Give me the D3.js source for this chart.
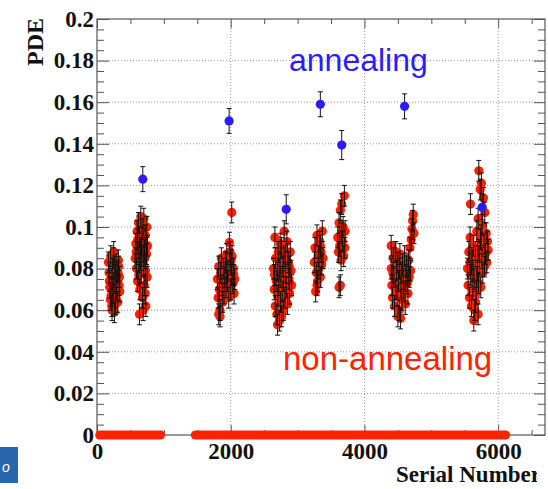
<!DOCTYPE html>
<html>
<head>
<meta charset="utf-8">
<script src="https://cdn.jsdelivr.net/npm/d3@7"></script>
<style>
  body { margin: 0; background: #fff; }
  svg { display: block; }
  .axis text { font-family: "Liberation Serif", "Times New Roman", serif; font-weight: bold; font-size: 23px; fill: #111; }
  .axis path { display: none; }
  .axis line { stroke: #555; }
</style>
</head>
<body>
<svg id="chart"></svg>
<script>
// tick labels
const xTicks = [0, 2000, 4000, 6000];
const xMinor = [500, 1000, 1500, 2500, 3000, 3500, 4500, 5000, 5500, 6500];
const yTicks = [0, 0.02, 0.04, 0.06, 0.08, 0.1, 0.12, 0.14, 0.16, 0.18, 0.2];

// serial-number ranges where the measured PDE is 0 (dense red band on the axis)
const zeroRuns = [[40, 950], [1470, 6110]];

// non-annealing batches: [serial number, PDE]
const batch1 = [[170,0.083],[180,0.078],[190,0.071],[200,0.065],[205,0.086],[215,0.075],[220,0.062],[230,0.080],
  [240,0.068],[245,0.085],[255,0.073],[260,0.059],[270,0.077],[280,0.066],[285,0.082],[295,0.070],[300,0.079],
  [310,0.064],[320,0.084],[330,0.072],[335,0.076],[340,0.069],[250,0.088],[225,0.060],[265,0.081],[290,0.074],
  [210,0.067],[315,0.078],[185,0.074],[275,0.063],[325,0.081],[235,0.071]];
const batch2 = [[570,0.085],[580,0.092],[590,0.080],[600,0.098],[605,0.074],[615,0.088],[620,0.102],[630,0.083],
  [635,0.095],[640,0.070],[650,0.090],[655,0.105],[660,0.078],[670,0.086],[675,0.099],[680,0.066],[690,0.093],
  [695,0.082],[700,0.104],[705,0.072],[710,0.089],[720,0.096],[725,0.079],[730,0.062],[740,0.087],[745,0.100],
  [750,0.076],[755,0.091],[635,0.058],[690,0.060],[720,0.068],[650,0.084],[610,0.094],[700,0.081],
  [585,0.088],[665,0.092],[715,0.085],[735,0.090],[625,0.077]];
const batch3 = [[1800,0.075],[1810,0.066],[1820,0.081],[1830,0.070],[1840,0.060],[1850,0.078],[1860,0.085],
  [1870,0.072],[1880,0.064],[1890,0.080],[1900,0.068],[1910,0.076],[1920,0.083],[1930,0.071],[1940,0.087],
  [1950,0.074],[1960,0.079],[1970,0.066],[1980,0.0925],[1990,0.082],[2000,0.070],[2010,0.077],[2015,0.107],
  [2020,0.086],[2030,0.073],[2040,0.080],[2050,0.068],[2060,0.075],[1820,0.058],[1840,0.057],[1990,0.088],
  [1935,0.078],[2005,0.084],[2045,0.077]];
const batch4 = [[2640,0.080],[2650,0.070],[2660,0.095],[2665,0.062],[2670,0.085],[2680,0.074],[2690,0.058],
  [2700,0.079],[2705,0.067],[2710,0.088],[2720,0.072],[2730,0.055],[2740,0.083],[2745,0.064],[2750,0.076],
  [2760,0.090],[2770,0.069],[2780,0.081],[2785,0.060],[2790,0.074],[2800,0.098],[2810,0.066],[2815,0.086],
  [2820,0.078],[2830,0.071],[2840,0.093],[2850,0.063],[2860,0.083],[2870,0.075],[2880,0.068],[2890,0.088],
  [2900,0.079],[2910,0.072],[2700,0.053],[2760,0.057],[2850,0.087],[2740,0.092],[2655,0.077],[2725,0.080],
  [2795,0.085],[2875,0.081]];
const batch5 = [[3250,0.083],[3260,0.090],[3270,0.069],[3280,0.078],[3290,0.096],[3300,0.074],[3310,0.086],
  [3320,0.080],[3330,0.093],[3340,0.076],[3350,0.088],[3360,0.082],[3370,0.098],[3380,0.085],[3290,0.072],
  [3340,0.091]];
const batch6 = [[3600,0.095],[3610,0.088],[3620,0.102],[3630,0.091],[3640,0.108],[3650,0.084],[3655,0.097],
  [3660,0.111],[3670,0.093],[3680,0.100],[3690,0.086],[3700,0.115],[3705,0.090],[3710,0.098],[3620,0.071],
  [3640,0.072]];
const batch7 = [[4400,0.080],[4410,0.072],[4420,0.066],[4430,0.085],[4440,0.076],[4450,0.062],[4460,0.088],
  [4470,0.070],[4480,0.079],[4490,0.067],[4500,0.083],[4510,0.074],[4520,0.060],[4530,0.087],[4540,0.056],
  [4545,0.071],[4550,0.078],[4560,0.065],[4570,0.082],[4580,0.075],[4590,0.069],[4600,0.086],[4610,0.063],
  [4620,0.077],[4630,0.081],[4640,0.073],[4650,0.068],[4660,0.084],[4670,0.076],[4680,0.090],[4690,0.079],
  [4700,0.094],[4710,0.099],[4720,0.103],[4730,0.106],[4740,0.097],[4500,0.057],[4400,0.091],[4470,0.088],
  [4425,0.078],[4525,0.080],[4615,0.074],[4655,0.079]];
const batch8 = [[5540,0.080],[5550,0.072],[5560,0.088],[5570,0.066],[5580,0.095],[5585,0.111],[5590,0.077],
  [5600,0.062],[5610,0.084],[5620,0.070],[5630,0.091],[5635,0.055],[5640,0.075],[5650,0.060],[5660,0.086],
  [5670,0.068],[5680,0.098],[5690,0.079],[5700,0.104],[5705,0.073],[5710,0.127],[5715,0.089],[5720,0.082],
  [5730,0.118],[5735,0.094],[5740,0.071],[5750,0.121],[5755,0.085],[5760,0.101],[5770,0.078],[5780,0.114],
  [5790,0.092],[5800,0.107],[5810,0.087],[5820,0.097],[5830,0.083],[5840,0.093],[5850,0.089],[5600,0.082],
  [5660,0.064],[5700,0.058],[5680,0.076],[5575,0.083],[5625,0.079],[5695,0.088],[5745,0.096],[5795,0.081]];
const redErr = 0.005;

// annealing samples
const annealSerial = [685, 1976, 2830, 3340, 3660, 4600, 5760];
const annealPDE = [0.123, 0.151, 0.1085, 0.159, 0.1394, 0.158, 0.1095];
const annealErr = [0.006, 0.006, 0.007, 0.006, 0.007, 0.006, 0.006];

const W = 548, H = 489;
const frame = { left: 97, right: 545, top: 19, bottom: 435 };
const red = '#ff2200', blue = '#2a1cff';

const svg = d3.select('#chart').attr('width', W).attr('height', H);

const x = d3.scaleLinear().domain([0, 6700]).range([frame.left, frame.right]);
const y = d3.scaleLinear().domain([0, 0.2]).range([frame.bottom, frame.top]);

// dotted grid
svg.append('g').selectAll('line')
  .data(yTicks.slice(1, -1))
  .enter().append('line')
  .attr('x1', frame.left).attr('x2', frame.right)
  .attr('y1', d => y(d)).attr('y2', d => y(d))
  .attr('stroke', '#999').attr('stroke-dasharray', '1,2');
svg.append('g').selectAll('line')
  .data(xTicks.slice(1))
  .enter().append('line')
  .attr('x1', d => x(d)).attr('x2', d => x(d))
  .attr('y1', frame.top).attr('y2', frame.bottom)
  .attr('stroke', '#999').attr('stroke-dasharray', '1,2');

// axes, ticks inside the frame like ROOT
const yFmt = d => d === 0 ? '0' : String(+d.toFixed(2));
const yMinor = d3.range(0, 0.2001, 0.005).filter(v => Math.abs(v / 0.02 - Math.round(v / 0.02)) > 1e-6);

svg.append('g').attr('class', 'axis')
  .attr('transform', `translate(${frame.left},0)`)
  .call(d3.axisLeft(y).tickValues(yTicks).tickFormat(yFmt).tickSize(-12).tickPadding(3));
svg.append('g').attr('class', 'axis')
  .attr('transform', `translate(${frame.left},0)`)
  .call(d3.axisLeft(y).tickValues(yMinor).tickFormat('').tickSize(-7));
svg.append('g').attr('class', 'axis')
  .attr('transform', `translate(${frame.right},0)`)
  .call(d3.axisRight(y).tickValues(yTicks).tickFormat('').tickSize(-11));
svg.append('g').attr('class', 'axis')
  .attr('transform', `translate(${frame.right},0)`)
  .call(d3.axisRight(y).tickValues(yMinor).tickFormat('').tickSize(-7));

svg.append('g').attr('class', 'axis')
  .attr('transform', `translate(0,${frame.bottom})`)
  .call(d3.axisBottom(x).tickValues(xTicks).tickFormat(d3.format('d')).tickSize(-10).tickPadding(8));
svg.append('g').attr('class', 'axis')
  .attr('transform', `translate(0,${frame.bottom})`)
  .call(d3.axisBottom(x).tickValues(xMinor).tickFormat('').tickSize(-5));
svg.append('g').attr('class', 'axis')
  .attr('transform', `translate(0,${frame.top})`)
  .call(d3.axisTop(x).tickValues(xTicks).tickFormat('').tickSize(-9));
svg.append('g').attr('class', 'axis')
  .attr('transform', `translate(0,${frame.top})`)
  .call(d3.axisTop(x).tickValues(xMinor).tickFormat('').tickSize(-5));

svg.append('rect')
  .attr('x', frame.left).attr('y', frame.top)
  .attr('width', frame.right - frame.left).attr('height', frame.bottom - frame.top)
  .attr('fill', 'none').attr('stroke', '#555').attr('stroke-width', 1.2);

// zero PDE band
svg.append('g').selectAll('line')
  .data(zeroRuns)
  .enter().append('line')
  .attr('x1', d => x(d[0])).attr('x2', d => x(d[1]))
  .attr('y1', y(0)).attr('y2', y(0))
  .attr('stroke', red).attr('stroke-width', 9).attr('stroke-linecap', 'round');

// non-annealing points
const redPoints = [].concat(batch1, batch2, batch3, batch4, batch5, batch6, batch7, batch8);
const gRed = svg.append('g');
gRed.selectAll('circle')
  .data(redPoints)
  .enter().append('circle')
  .attr('cx', d => x(d[0])).attr('cy', d => y(d[1]))
  .attr('r', 4.6).attr('fill', red);

const drawErr = (g, pts) => {
  const e = g.selectAll('g.err').data(pts).enter().append('g').attr('class', 'err')
    .attr('stroke', '#111').attr('stroke-width', 1);
  e.append('line')
    .attr('x1', d => x(d.s)).attr('x2', d => x(d.s))
    .attr('y1', d => y(d.v - d.e)).attr('y2', d => y(d.v + d.e));
  e.append('line')
    .attr('x1', d => x(d.s) - 2.5).attr('x2', d => x(d.s) + 2.5)
    .attr('y1', d => y(d.v - d.e)).attr('y2', d => y(d.v - d.e));
  e.append('line')
    .attr('x1', d => x(d.s) - 2.5).attr('x2', d => x(d.s) + 2.5)
    .attr('y1', d => y(d.v + d.e)).attr('y2', d => y(d.v + d.e));
};
drawErr(svg.append('g'), redPoints.map(d => ({ s: d[0], v: d[1], e: redErr })));

// annealing points
const blues = annealSerial.map((s, i) => ({ s: s, v: annealPDE[i], e: annealErr[i] }));
drawErr(svg.append('g'), blues);
svg.append('g').selectAll('circle')
  .data(blues)
  .enter().append('circle')
  .attr('cx', d => x(d.s)).attr('cy', d => y(d.v))
  .attr('r', 4.6).attr('fill', blue);

// axis titles
svg.append('clipPath').attr('id', 'titleClip')
  .append('rect').attr('x', 0).attr('y', 0).attr('width', 537).attr('height', H);
svg.append('text')
  .attr('x', 396).attr('y', 482)
  .attr('clip-path', 'url(#titleClip)')
  .style('font-family', '"Liberation Serif", "Times New Roman", serif')
  .style('font-weight', 'bold').style('font-size', '23px').attr('fill', '#111')
  .text('Serial Number');
svg.append('text')
  .attr('transform', 'translate(43,18) rotate(-90)')
  .attr('text-anchor', 'end')
  .style('font-family', '"Liberation Serif", "Times New Roman", serif')
  .style('font-weight', 'bold').style('font-size', '24px').attr('fill', '#111')
  .text('PDE');

svg.append('text')
  .attr('x', 289).attr('y', 71)
  .style('font-family', '"Liberation Sans", Arial, sans-serif')
  .style('font-size', '32px').attr('fill', blue)
  .text('annealing');
svg.append('text')
  .attr('x', 283).attr('y', 370)
  .style('font-family', '"Liberation Sans", Arial, sans-serif')
  .style('font-size', '33px').attr('fill', red)
  .text('non-annealing');

// slide remnant at bottom-left corner
svg.append('rect')
  .attr('x', 0).attr('y', 447).attr('width', 18).attr('height', 36)
  .attr('fill', '#2a66ad');
svg.append('text')
  .attr('x', 2).attr('y', 472)
  .style('font-family', '"Liberation Sans", Arial, sans-serif')
  .style('font-style', 'italic').style('font-size', '14px').attr('fill', '#fff')
  .text('o');
</script>
</body>
</html>
